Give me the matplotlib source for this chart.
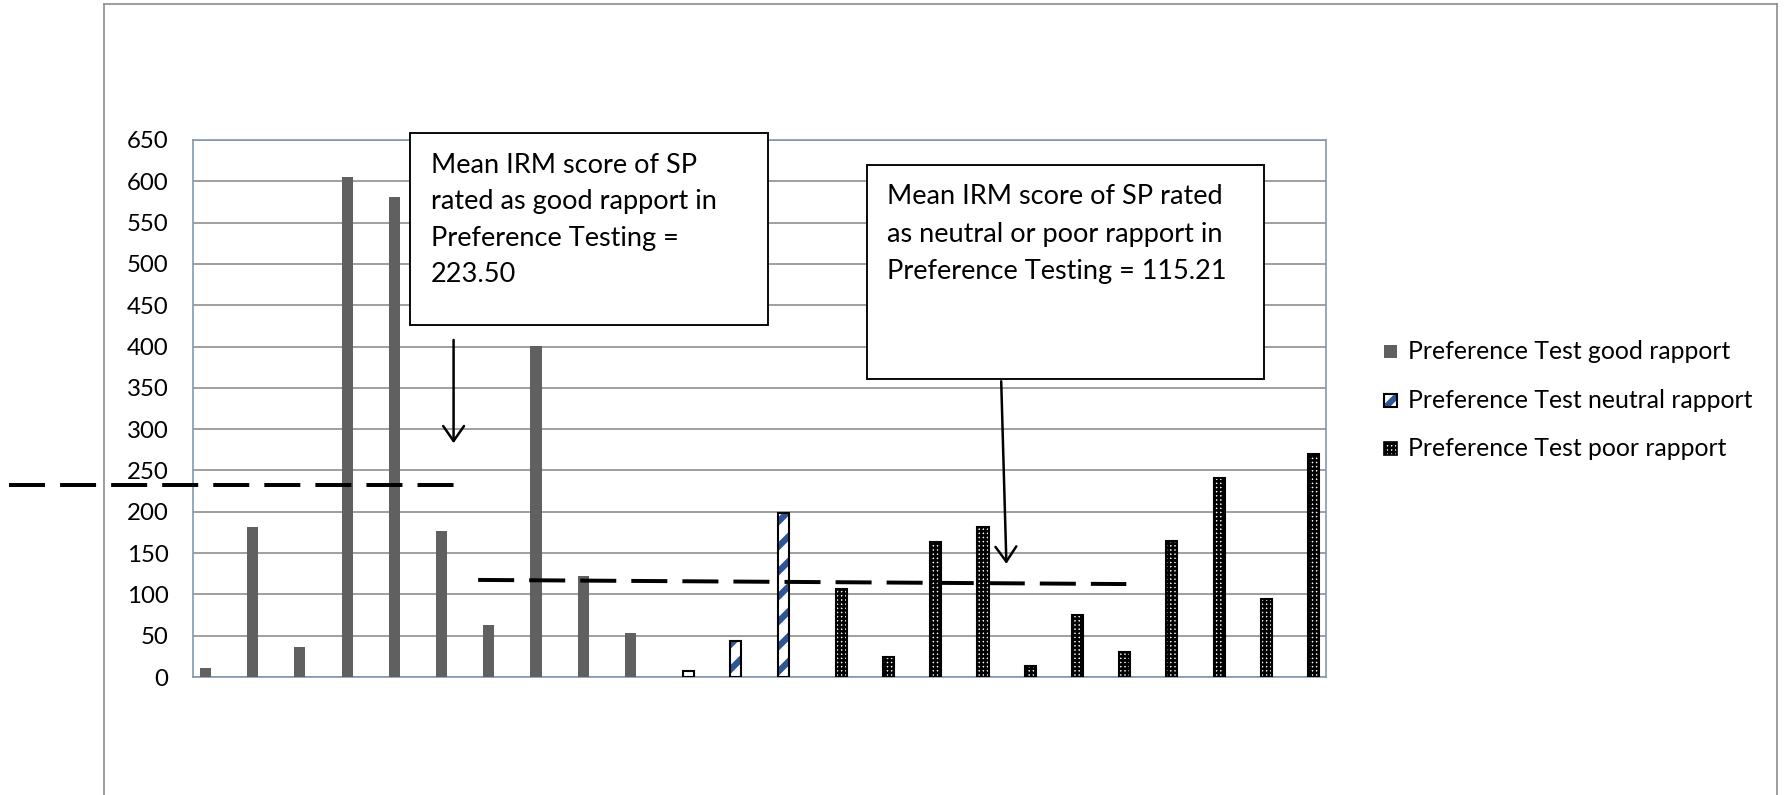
import numpy as np
import matplotlib.pyplot as plt
from matplotlib.patches import Rectangle, Polygon
from matplotlib.lines import Line2D

goodVals = [11, 181, 36, 605, 581, 177, 63, 401, 122, 53]
neutralVals = [7, 44, 199]
poorVals = [106, 24, 163, 181, 13, 75, 30, 165, 241, 95, 270]
seriesNames = ["Preference Test good rapport", "Preference Test neutral rapport",
               "Preference Test poor rapport"]
yTicks = list(range(0, 651, 50))
goodText = "Mean IRM score of SP\nrated as good rapport in\nPreference Testing =\n223.50"
otherText = "Mean IRM score of SP rated\nas neutral or poor rapport in\nPreference Testing = 115.21"

W, H, DPI = 1784, 795, 150

def fx(x):
    return x / W

def fy(y):
    return 1 - y / H

plt.rcParams['font.family'] = ['Lato', 'DejaVu Sans']
plt.rcParams['hatch.linewidth'] = 1.6

fig = plt.figure(figsize=(W / DPI, H / DPI), dpi=DPI)
fig.patch.set_facecolor('white')
ax = fig.add_axes([fx(193), fy(677), fx(1326) - fx(193), fy(140) - fy(677)])

nGood, nNeu, nPoor = len(goodVals), len(neutralVals), len(poorVals)
xGood = np.arange(nGood)
xNeu = np.arange(nGood, nGood + nNeu)
xPoor = np.arange(nGood + nNeu, nGood + nNeu + nPoor)
bw = 0.235

blue = '#2e5597'
goodStyle = dict(facecolor='#606060', edgecolor='#606060', linewidth=0)
neuStyle = dict(facecolor='white', edgecolor=blue, hatch='//', linewidth=0)
poorStyle = dict(facecolor='white', edgecolor='black', hatch='++++++', linewidth=1.0)
neuHatchLw, poorHatchLw = 3.0, 1.25

ax.bar(xGood - bw, goodVals, bw, zorder=3, **goodStyle)
with plt.rc_context({'hatch.linewidth': neuHatchLw}):
    neuBars = ax.bar(xNeu, neutralVals, bw, zorder=3, **neuStyle)
ax.bar(xNeu, neutralVals, bw, facecolor='none', edgecolor='black', linewidth=1.0, zorder=4)
with plt.rc_context({'hatch.linewidth': poorHatchLw}):
    poorBars = ax.bar(xPoor + bw, poorVals, bw, zorder=3, **poorStyle)
for p in neuBars:
    if hasattr(p, 'set_hatch_linewidth'):
        p.set_hatch_linewidth(neuHatchLw)
for p in poorBars:
    if hasattr(p, 'set_hatch_linewidth'):
        p.set_hatch_linewidth(poorHatchLw)

ax.set_xlim(-0.5, nGood + nNeu + nPoor - 0.5)
ax.set_ylim(0, 650)
ax.set_yticks(yTicks)
ax.set_xticks([])
ax.tick_params(axis='y', length=0, pad=11.8, labelsize=11.5)
ax.yaxis.grid(True, color='#8f8f8f', linewidth=0.8)
ax.set_axisbelow(True)
for s in ax.spines.values():
    s.set_color('#8497b0')
    s.set_linewidth(0.8)

# mean lines as drawn in the original (hand placed)
ax.plot([-4.4, 5.05], [232, 232], color='black', lw=1.9, ls=(0, (9.1, 3.8)),
        clip_on=False, zorder=6)
ax.plot([5.54, 19.27], [117.5, 112.5], color='black', lw=1.9, ls=(0, (9.1, 3.8)),
        clip_on=False, zorder=6)

# arrows
ax.annotate('', xy=(5.02, 283), xytext=(5.02, 408), annotation_clip=False,
            arrowprops=dict(arrowstyle='->,head_length=0.72,head_width=0.5', lw=1.2,
                            color='black', shrinkA=0, shrinkB=0))
ax.annotate('', xy=(16.73, 137), xytext=(16.62, 358), annotation_clip=False,
            arrowprops=dict(arrowstyle='->,head_length=0.72,head_width=0.5', lw=1.2,
                            color='black', shrinkA=0, shrinkB=0))

# text boxes
fig.add_artist(Rectangle((fx(410), fy(325)), fx(768) - fx(410), fy(133) - fy(325),
                         transform=fig.transFigure, facecolor='white', edgecolor='black',
                         linewidth=0.9, zorder=5))
fig.text(fx(431), fy(153), goodText, ha='left', va='top', fontsize=13,
         linespacing=1.57, zorder=6)
fig.add_artist(Rectangle((fx(867), fy(379)), fx(1264) - fx(867), fy(165) - fy(379),
                         transform=fig.transFigure, facecolor='white', edgecolor='black',
                         linewidth=0.9, zorder=5))
fig.text(fx(887), fy(184.5), otherText, ha='left', va='top', fontsize=13,
         linespacing=1.61, zorder=6)

# legend drawn by hand to match the Excel layout
rowY = [351.6, 400.5, 448.3]
sq = 13
x0 = 1384
for i, (name, yy) in enumerate(zip(seriesNames, rowY)):
    top = yy - sq / 2
    if i == 0:
        fig.add_artist(Rectangle((fx(x0), fy(top + sq)), fx(sq), sq / H,
                                 transform=fig.transFigure, zorder=5, **goodStyle))
    elif i == 1:
        fig.add_artist(Rectangle((fx(x0), fy(top + sq)), fx(sq), sq / H,
                                 transform=fig.transFigure, facecolor='white',
                                 edgecolor='none', zorder=5))
        band = [(x0, top + sq), (x0 + 0.45 * sq, top + sq), (x0 + sq, top + 0.45 * sq),
                (x0 + sq, top), (x0 + 0.8 * sq, top), (x0, top + 0.8 * sq)]
        band = [(fx(a), fy(b)) for a, b in band]
        fig.add_artist(Polygon(band, closed=True, transform=fig.transFigure,
                               facecolor=blue, edgecolor='none', zorder=5))
        fig.add_artist(Rectangle((fx(x0), fy(top + sq)), fx(sq), sq / H,
                                 transform=fig.transFigure, facecolor='none',
                                 edgecolor='black', linewidth=1.0, zorder=6))
    else:
        with plt.rc_context({'hatch.linewidth': poorHatchLw}):
            r = Rectangle((fx(x0), fy(top + sq)), fx(sq), sq / H,
                          transform=fig.transFigure, zorder=5,
                          **dict(poorStyle, linewidth=0.8))
        if hasattr(r, 'set_hatch_linewidth'):
            r.set_hatch_linewidth(poorHatchLw)
        fig.add_artist(r)
    fig.text(fx(1408), fy(yy), name, ha='left', va='center', fontsize=11.9)

# outer chart frame
frameColor = '#8c8c8c'
fig.add_artist(Line2D([fx(103.5), fx(1777)], [fy(3.5), fy(3.5)], transform=fig.transFigure,
                      color=frameColor, lw=0.8))
fig.add_artist(Line2D([fx(103.5), fx(103.5)], [fy(3.5), 0], transform=fig.transFigure,
                      color=frameColor, lw=0.8))
fig.add_artist(Line2D([fx(1777), fx(1777)], [fy(3.5), 0], transform=fig.transFigure,
                      color=frameColor, lw=0.8))

fig.savefig("out.png", dpi=DPI)
